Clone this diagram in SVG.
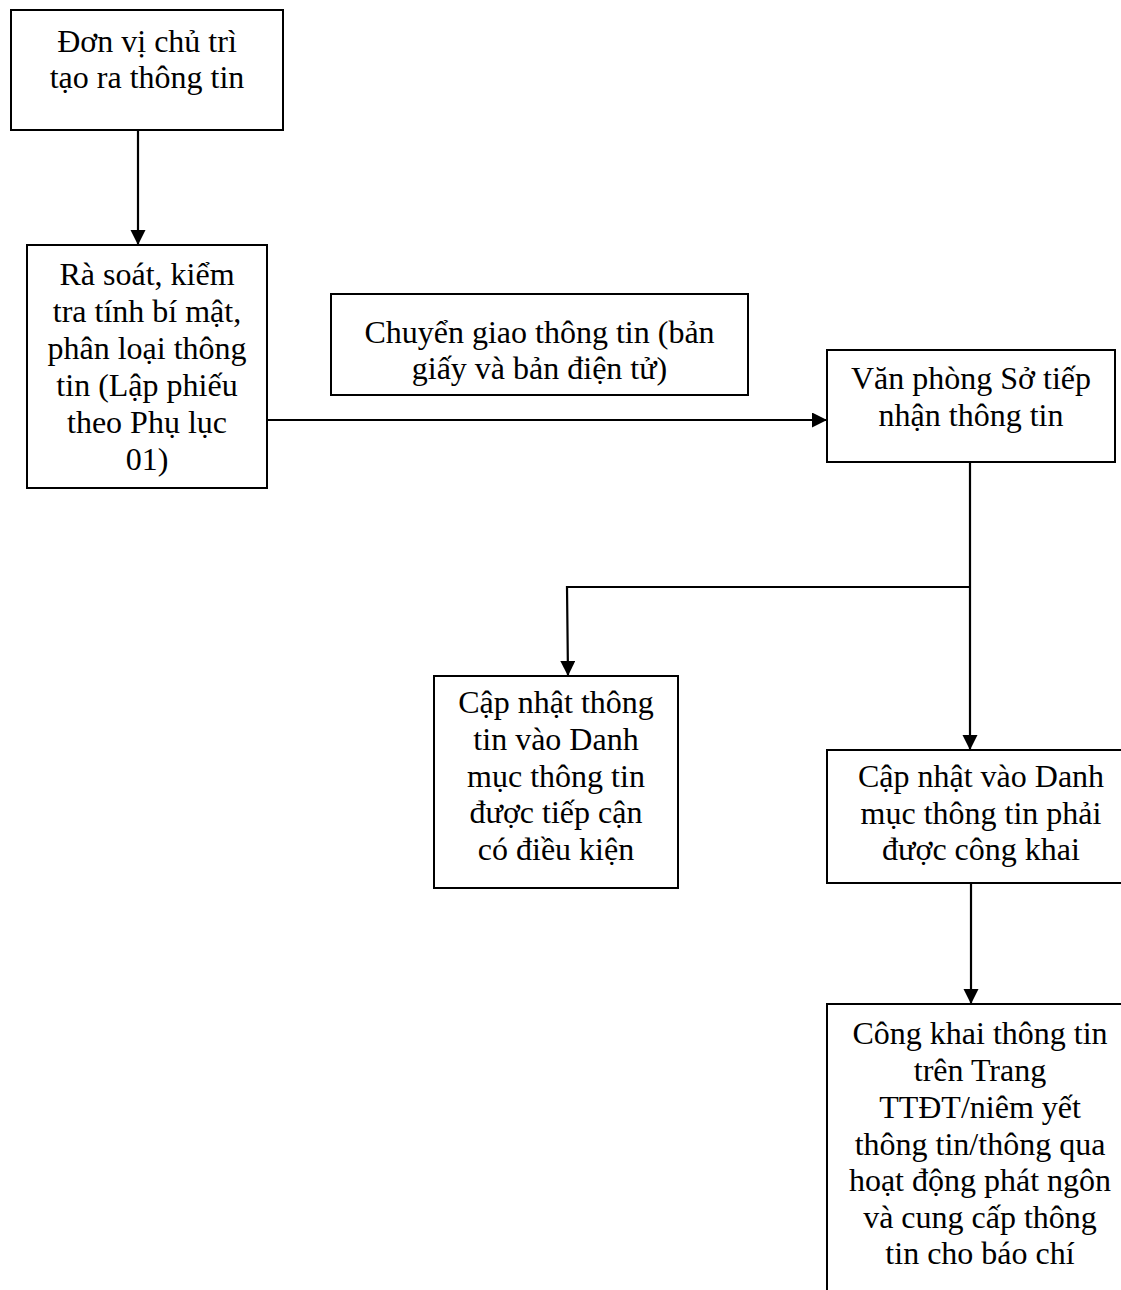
<svg xmlns="http://www.w3.org/2000/svg" width="1121" height="1290" viewBox="0 0 1121 1290">
<style>
.box{fill:#fff;stroke:#000;stroke-width:2}
.t{font-family:"Liberation Serif","Times New Roman",serif;font-size:32px;fill:#000;text-anchor:middle}
.c{fill:none;stroke:#000;stroke-width:2.2}
</style>
<defs>
<marker id="ah" markerUnits="userSpaceOnUse" markerWidth="16" markerHeight="16" refX="15" refY="7.5" orient="auto">
<path d="M0,0 L15,7.5 L0,15 z" fill="#000"/>
</marker>
</defs>
<rect width="1121" height="1290" fill="#fff"/>
<g id="connectors">
<line class="c" x1="138" y1="130" x2="138" y2="245" marker-end="url(#ah)"/>
<line class="c" x1="267" y1="420" x2="827" y2="420" marker-end="url(#ah)"/>
<line class="c" x1="970" y1="462" x2="970" y2="750" marker-end="url(#ah)"/>
<polyline class="c" points="970,587 567,587 568,676" marker-end="url(#ah)"/>
<line class="c" x1="971" y1="883" x2="971" y2="1004" marker-end="url(#ah)"/>
</g>
<g id="n1">
<rect class="box" x="11" y="10" width="272" height="120"/>
<text class="t" x="147" y="52">Đơn vị chủ trì</text>
<text class="t" x="147" y="88">tạo ra thông tin</text>
</g>
<g id="n2">
<rect class="box" x="27" y="245" width="240" height="243"/>
<text class="t" x="147" y="285">Rà soát, kiểm</text>
<text class="t" x="147" y="322">tra tính bí mật,</text>
<text class="t" x="147" y="359">phân loại thông</text>
<text class="t" x="147" y="396">tin (Lập phiếu</text>
<text class="t" x="147" y="433">theo Phụ lục</text>
<text class="t" x="147" y="470">01)</text>
</g>
<g id="n3">
<rect class="box" x="331" y="294" width="417" height="101"/>
<text class="t" x="539.5" y="343">Chuyển giao thông tin (bản</text>
<text class="t" x="539.5" y="379">giấy và bản điện tử)</text>
</g>
<g id="n4">
<rect class="box" x="827" y="350" width="288" height="112"/>
<text class="t" x="971" y="389">Văn phòng Sở tiếp</text>
<text class="t" x="971" y="426">nhận thông tin</text>
</g>
<g id="n5">
<rect class="box" x="434" y="676" width="244" height="212"/>
<text class="t" x="556" y="713">Cập nhật thông</text>
<text class="t" x="556" y="750">tin vào Danh</text>
<text class="t" x="556" y="787">mục thông tin</text>
<text class="t" x="556" y="823">được tiếp cận</text>
<text class="t" x="556" y="860">có điều kiện</text>
</g>
<g id="n6">
<rect class="box" x="827" y="750" width="310" height="133"/>
<text class="t" x="981" y="787">Cập nhật vào Danh</text>
<text class="t" x="981" y="824">mục thông tin phải</text>
<text class="t" x="981" y="860">được công khai</text>
</g>
<g id="n7">
<rect class="box" x="827" y="1004" width="310" height="310"/>
<text class="t" x="980" y="1044">Công khai thông tin</text>
<text class="t" x="980" y="1081">trên Trang</text>
<text class="t" x="980" y="1118">TTĐT/niêm yết</text>
<text class="t" x="980" y="1155">thông tin/thông qua</text>
<text class="t" x="980" y="1191">hoạt động phát ngôn</text>
<text class="t" x="980" y="1228">và cung cấp thông</text>
<text class="t" x="980" y="1264">tin cho báo chí</text>
</g>
</svg>
